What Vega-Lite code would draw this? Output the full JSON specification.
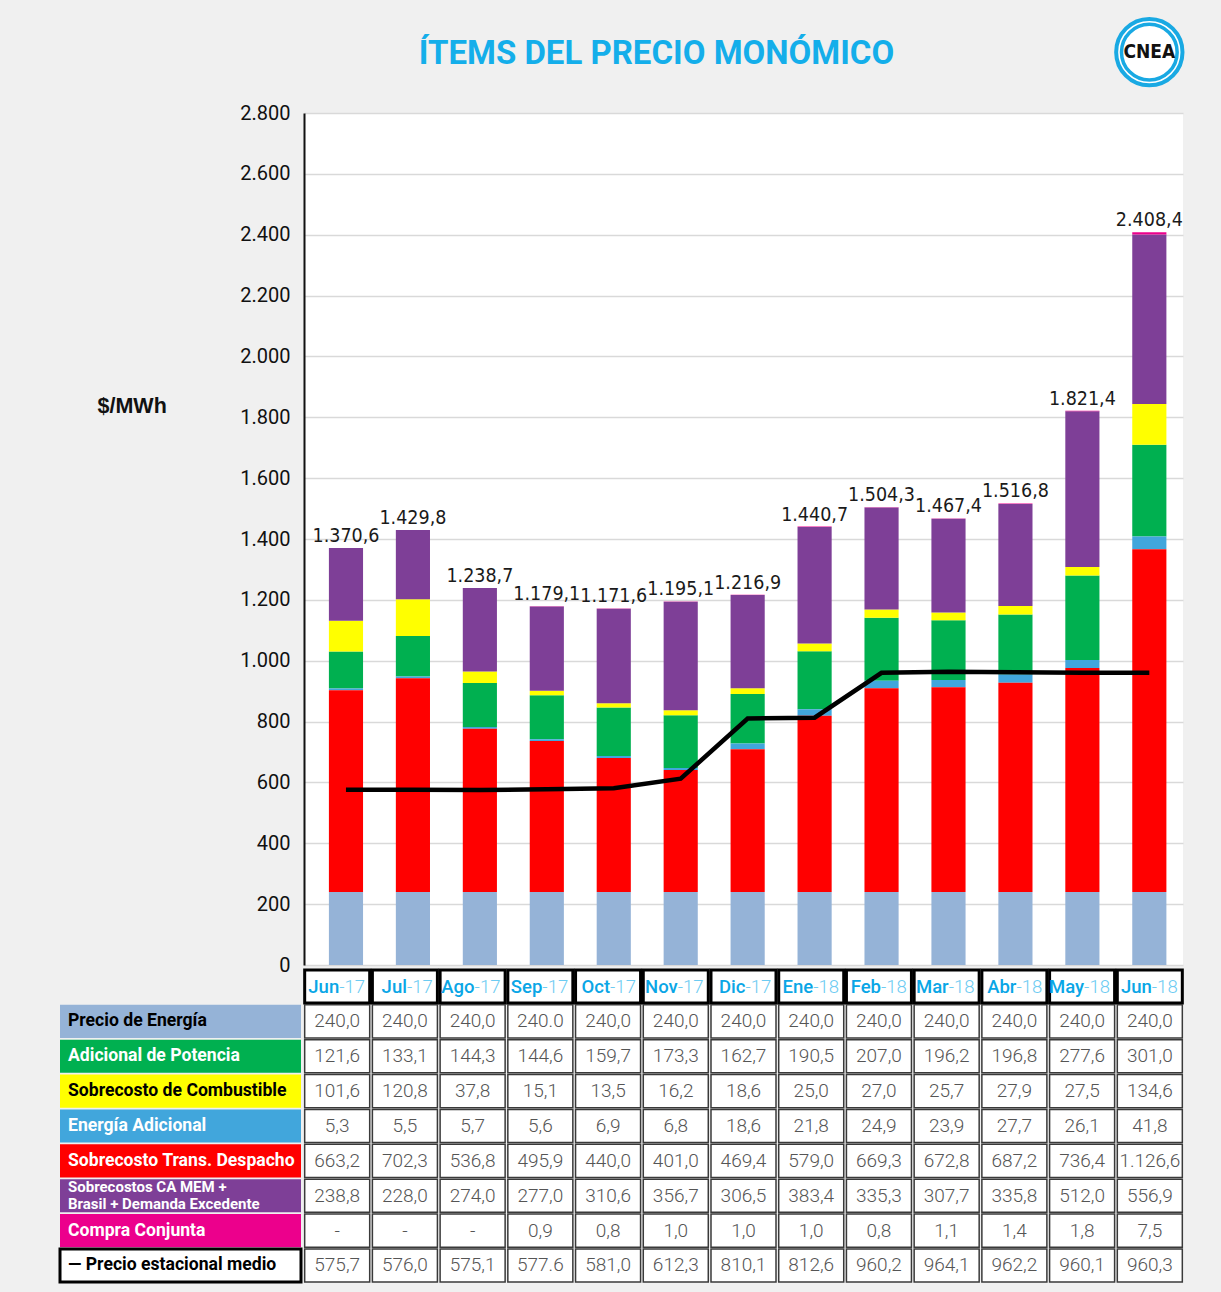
{
  "$schema": "https://vega.github.io/schema/vega-lite/v6.json",
  "background": "#f0f0f0",
  "padding": {"left": 58, "top": 10, "right": 36, "bottom": 10},
  "title": {"text": "ÍTEMS DEL PRECIO MONÓMICO", "font": "Roboto", "fontSize": 33, "fontWeight": "bold", "color": "#14aeea", "anchor": "middle", "frame": "bounds", "offset": -60, "dx": 32},
  "config": {"font": "Roboto", "view": {"stroke": null}},
  "datasets": {
    "filas": [
      {"item": "Precio de Energía", "capa": 1, "etiqueta": "Precio de Energía"},
      {"item": "Adicional de Potencia", "capa": 4, "etiqueta": "Adicional de Potencia"},
      {"item": "Sobrecosto de Combustible", "capa": 5, "etiqueta": "Sobrecosto de Combustible"},
      {"item": "Energía Adicional", "capa": 3, "etiqueta": "Energía Adicional"},
      {"item": "Sobrecosto Trans. Despacho", "capa": 2, "etiqueta": "Sobrecosto Trans. Despacho"},
      {"item": "Sobrecostos CA MEM + Brasil + Demanda Excedente", "capa": 6, "etiqueta": "Sobrecostos CA MEM +\nBrasil + Demanda Excedente"},
      {"item": "Compra Conjunta", "capa": 7, "etiqueta": "Compra Conjunta"},
      {"item": "Precio estacional medio", "capa": 8, "etiqueta": "— Precio estacional medio"}
    ],
    "meses": [
      {"mes": "Jun-17", "m": "Jun", "a": "-17", "total": 1370.6, "ttxt": "1.370,6"},
      {"mes": "Jul-17", "m": "Jul", "a": "-17", "total": 1429.8, "ttxt": "1.429,8"},
      {"mes": "Ago-17", "m": "Ago", "a": "-17", "total": 1238.7, "ttxt": "1.238,7"},
      {"mes": "Sep-17", "m": "Sep", "a": "-17", "total": 1179.1, "ttxt": "1.179,1"},
      {"mes": "Oct-17", "m": "Oct", "a": "-17", "total": 1171.6, "ttxt": "1.171,6"},
      {"mes": "Nov-17", "m": "Nov", "a": "-17", "total": 1195.1, "ttxt": "1.195,1"},
      {"mes": "Dic-17", "m": "Dic", "a": "-17", "total": 1216.9, "ttxt": "1.216,9"},
      {"mes": "Ene-18", "m": "Ene", "a": "-18", "total": 1440.7, "ttxt": "1.440,7"},
      {"mes": "Feb-18", "m": "Feb", "a": "-18", "total": 1504.3, "ttxt": "1.504,3"},
      {"mes": "Mar-18", "m": "Mar", "a": "-18", "total": 1467.4, "ttxt": "1.467,4"},
      {"mes": "Abr-18", "m": "Abr", "a": "-18", "total": 1516.8, "ttxt": "1.516,8"},
      {"mes": "May-18", "m": "May", "a": "-18", "total": 1821.4, "ttxt": "1.821,4"},
      {"mes": "Jun-18", "m": "Jun", "a": "-18", "total": 2408.4, "ttxt": "2.408,4"}
    ],
    "items": [
      {"mes": "Jun-17", "item": "Precio de Energía", "valor": 240.0, "txt": "240,0"},
      {"mes": "Jul-17", "item": "Precio de Energía", "valor": 240.0, "txt": "240,0"},
      {"mes": "Ago-17", "item": "Precio de Energía", "valor": 240.0, "txt": "240,0"},
      {"mes": "Sep-17", "item": "Precio de Energía", "valor": 240.0, "txt": "240.0"},
      {"mes": "Oct-17", "item": "Precio de Energía", "valor": 240.0, "txt": "240,0"},
      {"mes": "Nov-17", "item": "Precio de Energía", "valor": 240.0, "txt": "240,0"},
      {"mes": "Dic-17", "item": "Precio de Energía", "valor": 240.0, "txt": "240,0"},
      {"mes": "Ene-18", "item": "Precio de Energía", "valor": 240.0, "txt": "240,0"},
      {"mes": "Feb-18", "item": "Precio de Energía", "valor": 240.0, "txt": "240,0"},
      {"mes": "Mar-18", "item": "Precio de Energía", "valor": 240.0, "txt": "240,0"},
      {"mes": "Abr-18", "item": "Precio de Energía", "valor": 240.0, "txt": "240,0"},
      {"mes": "May-18", "item": "Precio de Energía", "valor": 240.0, "txt": "240,0"},
      {"mes": "Jun-18", "item": "Precio de Energía", "valor": 240.0, "txt": "240,0"},

      {"mes": "Jun-17", "item": "Adicional de Potencia", "valor": 121.6, "txt": "121,6"},
      {"mes": "Jul-17", "item": "Adicional de Potencia", "valor": 133.1, "txt": "133,1"},
      {"mes": "Ago-17", "item": "Adicional de Potencia", "valor": 144.3, "txt": "144,3"},
      {"mes": "Sep-17", "item": "Adicional de Potencia", "valor": 144.6, "txt": "144,6"},
      {"mes": "Oct-17", "item": "Adicional de Potencia", "valor": 159.7, "txt": "159,7"},
      {"mes": "Nov-17", "item": "Adicional de Potencia", "valor": 173.3, "txt": "173,3"},
      {"mes": "Dic-17", "item": "Adicional de Potencia", "valor": 162.7, "txt": "162,7"},
      {"mes": "Ene-18", "item": "Adicional de Potencia", "valor": 190.5, "txt": "190,5"},
      {"mes": "Feb-18", "item": "Adicional de Potencia", "valor": 207.0, "txt": "207,0"},
      {"mes": "Mar-18", "item": "Adicional de Potencia", "valor": 196.2, "txt": "196,2"},
      {"mes": "Abr-18", "item": "Adicional de Potencia", "valor": 196.8, "txt": "196,8"},
      {"mes": "May-18", "item": "Adicional de Potencia", "valor": 277.6, "txt": "277,6"},
      {"mes": "Jun-18", "item": "Adicional de Potencia", "valor": 301.0, "txt": "301,0"},

      {"mes": "Jun-17", "item": "Sobrecosto de Combustible", "valor": 101.6, "txt": "101,6"},
      {"mes": "Jul-17", "item": "Sobrecosto de Combustible", "valor": 120.8, "txt": "120,8"},
      {"mes": "Ago-17", "item": "Sobrecosto de Combustible", "valor": 37.8, "txt": "37,8"},
      {"mes": "Sep-17", "item": "Sobrecosto de Combustible", "valor": 15.1, "txt": "15,1"},
      {"mes": "Oct-17", "item": "Sobrecosto de Combustible", "valor": 13.5, "txt": "13,5"},
      {"mes": "Nov-17", "item": "Sobrecosto de Combustible", "valor": 16.2, "txt": "16,2"},
      {"mes": "Dic-17", "item": "Sobrecosto de Combustible", "valor": 18.6, "txt": "18,6"},
      {"mes": "Ene-18", "item": "Sobrecosto de Combustible", "valor": 25.0, "txt": "25,0"},
      {"mes": "Feb-18", "item": "Sobrecosto de Combustible", "valor": 27.0, "txt": "27,0"},
      {"mes": "Mar-18", "item": "Sobrecosto de Combustible", "valor": 25.7, "txt": "25,7"},
      {"mes": "Abr-18", "item": "Sobrecosto de Combustible", "valor": 27.9, "txt": "27,9"},
      {"mes": "May-18", "item": "Sobrecosto de Combustible", "valor": 27.5, "txt": "27,5"},
      {"mes": "Jun-18", "item": "Sobrecosto de Combustible", "valor": 134.6, "txt": "134,6"},

      {"mes": "Jun-17", "item": "Energía Adicional", "valor": 5.3, "txt": "5,3"},
      {"mes": "Jul-17", "item": "Energía Adicional", "valor": 5.5, "txt": "5,5"},
      {"mes": "Ago-17", "item": "Energía Adicional", "valor": 5.7, "txt": "5,7"},
      {"mes": "Sep-17", "item": "Energía Adicional", "valor": 5.6, "txt": "5,6"},
      {"mes": "Oct-17", "item": "Energía Adicional", "valor": 6.9, "txt": "6,9"},
      {"mes": "Nov-17", "item": "Energía Adicional", "valor": 6.8, "txt": "6,8"},
      {"mes": "Dic-17", "item": "Energía Adicional", "valor": 18.6, "txt": "18,6"},
      {"mes": "Ene-18", "item": "Energía Adicional", "valor": 21.8, "txt": "21,8"},
      {"mes": "Feb-18", "item": "Energía Adicional", "valor": 24.9, "txt": "24,9"},
      {"mes": "Mar-18", "item": "Energía Adicional", "valor": 23.9, "txt": "23,9"},
      {"mes": "Abr-18", "item": "Energía Adicional", "valor": 27.7, "txt": "27,7"},
      {"mes": "May-18", "item": "Energía Adicional", "valor": 26.1, "txt": "26,1"},
      {"mes": "Jun-18", "item": "Energía Adicional", "valor": 41.8, "txt": "41,8"},

      {"mes": "Jun-17", "item": "Sobrecosto Trans. Despacho", "valor": 663.2, "txt": "663,2"},
      {"mes": "Jul-17", "item": "Sobrecosto Trans. Despacho", "valor": 702.3, "txt": "702,3"},
      {"mes": "Ago-17", "item": "Sobrecosto Trans. Despacho", "valor": 536.8, "txt": "536,8"},
      {"mes": "Sep-17", "item": "Sobrecosto Trans. Despacho", "valor": 495.9, "txt": "495,9"},
      {"mes": "Oct-17", "item": "Sobrecosto Trans. Despacho", "valor": 440.0, "txt": "440,0"},
      {"mes": "Nov-17", "item": "Sobrecosto Trans. Despacho", "valor": 401.0, "txt": "401,0"},
      {"mes": "Dic-17", "item": "Sobrecosto Trans. Despacho", "valor": 469.4, "txt": "469,4"},
      {"mes": "Ene-18", "item": "Sobrecosto Trans. Despacho", "valor": 579.0, "txt": "579,0"},
      {"mes": "Feb-18", "item": "Sobrecosto Trans. Despacho", "valor": 669.3, "txt": "669,3"},
      {"mes": "Mar-18", "item": "Sobrecosto Trans. Despacho", "valor": 672.8, "txt": "672,8"},
      {"mes": "Abr-18", "item": "Sobrecosto Trans. Despacho", "valor": 687.2, "txt": "687,2"},
      {"mes": "May-18", "item": "Sobrecosto Trans. Despacho", "valor": 736.4, "txt": "736,4"},
      {"mes": "Jun-18", "item": "Sobrecosto Trans. Despacho", "valor": 1126.6, "txt": "1.126,6"},

      {"mes": "Jun-17", "item": "Sobrecostos CA MEM + Brasil + Demanda Excedente", "valor": 238.8, "txt": "238,8"},
      {"mes": "Jul-17", "item": "Sobrecostos CA MEM + Brasil + Demanda Excedente", "valor": 228.0, "txt": "228,0"},
      {"mes": "Ago-17", "item": "Sobrecostos CA MEM + Brasil + Demanda Excedente", "valor": 274.0, "txt": "274,0"},
      {"mes": "Sep-17", "item": "Sobrecostos CA MEM + Brasil + Demanda Excedente", "valor": 277.0, "txt": "277,0"},
      {"mes": "Oct-17", "item": "Sobrecostos CA MEM + Brasil + Demanda Excedente", "valor": 310.6, "txt": "310,6"},
      {"mes": "Nov-17", "item": "Sobrecostos CA MEM + Brasil + Demanda Excedente", "valor": 356.7, "txt": "356,7"},
      {"mes": "Dic-17", "item": "Sobrecostos CA MEM + Brasil + Demanda Excedente", "valor": 306.5, "txt": "306,5"},
      {"mes": "Ene-18", "item": "Sobrecostos CA MEM + Brasil + Demanda Excedente", "valor": 383.4, "txt": "383,4"},
      {"mes": "Feb-18", "item": "Sobrecostos CA MEM + Brasil + Demanda Excedente", "valor": 335.3, "txt": "335,3"},
      {"mes": "Mar-18", "item": "Sobrecostos CA MEM + Brasil + Demanda Excedente", "valor": 307.7, "txt": "307,7"},
      {"mes": "Abr-18", "item": "Sobrecostos CA MEM + Brasil + Demanda Excedente", "valor": 335.8, "txt": "335,8"},
      {"mes": "May-18", "item": "Sobrecostos CA MEM + Brasil + Demanda Excedente", "valor": 512.0, "txt": "512,0"},
      {"mes": "Jun-18", "item": "Sobrecostos CA MEM + Brasil + Demanda Excedente", "valor": 556.9, "txt": "556,9"},

      {"mes": "Jun-17", "item": "Compra Conjunta", "valor": null, "txt": "-"},
      {"mes": "Jul-17", "item": "Compra Conjunta", "valor": null, "txt": "-"},
      {"mes": "Ago-17", "item": "Compra Conjunta", "valor": null, "txt": "-"},
      {"mes": "Sep-17", "item": "Compra Conjunta", "valor": 0.9, "txt": "0,9"},
      {"mes": "Oct-17", "item": "Compra Conjunta", "valor": 0.8, "txt": "0,8"},
      {"mes": "Nov-17", "item": "Compra Conjunta", "valor": 1.0, "txt": "1,0"},
      {"mes": "Dic-17", "item": "Compra Conjunta", "valor": 1.0, "txt": "1,0"},
      {"mes": "Ene-18", "item": "Compra Conjunta", "valor": 1.0, "txt": "1,0"},
      {"mes": "Feb-18", "item": "Compra Conjunta", "valor": 0.8, "txt": "0,8"},
      {"mes": "Mar-18", "item": "Compra Conjunta", "valor": 1.1, "txt": "1,1"},
      {"mes": "Abr-18", "item": "Compra Conjunta", "valor": 1.4, "txt": "1,4"},
      {"mes": "May-18", "item": "Compra Conjunta", "valor": 1.8, "txt": "1,8"},
      {"mes": "Jun-18", "item": "Compra Conjunta", "valor": 7.5, "txt": "7,5"},

      {"mes": "Jun-17", "item": "Precio estacional medio", "valor": 575.7, "txt": "575,7"},
      {"mes": "Jul-17", "item": "Precio estacional medio", "valor": 576.0, "txt": "576,0"},
      {"mes": "Ago-17", "item": "Precio estacional medio", "valor": 575.1, "txt": "575,1"},
      {"mes": "Sep-17", "item": "Precio estacional medio", "valor": 577.6, "txt": "577.6"},
      {"mes": "Oct-17", "item": "Precio estacional medio", "valor": 581.0, "txt": "581,0"},
      {"mes": "Nov-17", "item": "Precio estacional medio", "valor": 612.3, "txt": "612,3"},
      {"mes": "Dic-17", "item": "Precio estacional medio", "valor": 810.1, "txt": "810,1"},
      {"mes": "Ene-18", "item": "Precio estacional medio", "valor": 812.6, "txt": "812,6"},
      {"mes": "Feb-18", "item": "Precio estacional medio", "valor": 960.2, "txt": "960,2"},
      {"mes": "Mar-18", "item": "Precio estacional medio", "valor": 964.1, "txt": "964,1"},
      {"mes": "Abr-18", "item": "Precio estacional medio", "valor": 962.2, "txt": "962,2"},
      {"mes": "May-18", "item": "Precio estacional medio", "valor": 960.1, "txt": "960,1"},
      {"mes": "Jun-18", "item": "Precio estacional medio", "valor": 960.3, "txt": "960,3"}
    ]
  },
  "columns": 2,
  "bounds": "flush",
  "spacing": {"row": 5, "column": 3},
  "concat": [
    {
      "width": 241, "height": 1,
      "data": {"values": []},
      "mark": "text",
      "encoding": {}
    },
    {
      "width": 879, "height": 852,
      "view": {"fill": "white", "stroke": null},
      "encoding": {
        "x": {"field": "mes", "type": "nominal", "axis": null,
          "scale": {"domain": ["Jun-17","Jul-17","Ago-17","Sep-17","Oct-17","Nov-17","Dic-17","Ene-18","Feb-18","Mar-18","Abr-18","May-18","Jun-18"], "paddingInner": 0.49, "paddingOuter": 0.31, "align": 0.6}}
      },
      "layer": [
        {
          "data": {"name": "items"},
          "transform": [
            {"filter": "datum.item != 'Precio estacional medio' && isValid(datum.valor)"},
            {"lookup": "item", "from": {"data": {"name": "filas"}, "key": "item", "fields": ["capa"]}}
          ],
          "mark": {"type": "bar"},
          "encoding": {
            "y": {"field": "valor", "type": "quantitative", "stack": "zero",
              "scale": {"domain": [0, 2800], "nice": false},
              "axis": {"values": [0,200,400,600,800,1000,1200,1400,1600,1800,2000,2200,2400,2600,2800],
                "labelExpr": "replace(format(datum.value, ','), ',', '.')",
                "labelFontSize": 20, "labelColor": "#111", "labelPadding": 14, "ticks": false,
                "domainColor": "#111", "domainWidth": 2, "gridColor": "#d9d9d9", "gridWidth": 1.3,
                "title": "$/MWh", "titleAngle": 0, "titleX": -207, "titleY": 293, "titleAlign": "left", "titleBaseline": "middle",
                "titleFont": "Liberation Sans", "titleFontSize": 21.5, "titleFontWeight": "bold", "titleColor": "#111"}},
            "color": {"field": "item", "type": "nominal", "legend": null,
              "scale": {"domain": ["Precio de Energía","Adicional de Potencia","Sobrecosto de Combustible","Energía Adicional","Sobrecosto Trans. Despacho","Sobrecostos CA MEM + Brasil + Demanda Excedente","Compra Conjunta","Precio estacional medio"],
                "range": ["#95b3d7","#00b050","#ffff00","#41a6dc","#ff0000","#7e3f97","#ec008c","#ffffff"]}},
            "order": {"field": "capa", "type": "quantitative"}
          }
        },
        {
          "data": {"name": "items"},
          "transform": [{"filter": "datum.item == 'Precio estacional medio'"}],
          "mark": {"type": "line", "color": "#000000", "strokeWidth": 4.5},
          "encoding": {"y": {"field": "valor", "type": "quantitative"}}
        },
        {
          "data": {"name": "meses"},
          "mark": {"type": "text", "baseline": "alphabetic", "dy": -6, "fontSize": 19.5, "color": "#1a1a1a", "font": "DejaVu Sans Condensed, Roboto"},
          "encoding": {"y": {"field": "total", "type": "quantitative"}, "text": {"field": "ttxt"}}
        },
        {
          "data": {"values": [{"logo": "CNEA"}]},
          "layer": [
            {"mark": {"type": "point", "shape": "circle", "filled": true, "fill": "#ffffff", "stroke": "#19a9e3", "strokeWidth": 4, "size": 4400, "opacity": 1},
             "encoding": {"x": {"datum": "Jun-18"}, "y": {"datum": 3000}}},
            {"mark": {"type": "point", "shape": "circle", "filled": false, "stroke": "#19a9e3", "strokeWidth": 3.5, "size": 3100, "opacity": 1},
             "encoding": {"x": {"datum": "Jun-18"}, "y": {"datum": 3000}}},
            {"mark": {"type": "text", "fontSize": 19, "fontWeight": "bold", "color": "#111", "baseline": "middle", "font": "DejaVu Sans Condensed, Roboto"},
             "encoding": {"x": {"datum": "Jun-18"}, "y": {"datum": 3000}, "text": {"field": "logo"}}}
          ]
        }
      ]
    },
    {
      "width": 241, "height": 312,
      "data": {"name": "filas"},
      "encoding": {
        "y": {"field": "item", "type": "nominal", "axis": null,
          "scale": {"domain": ["Meses","Precio de Energía","Adicional de Potencia","Sobrecosto de Combustible","Energía Adicional","Sobrecosto Trans. Despacho","Sobrecostos CA MEM + Brasil + Demanda Excedente","Compra Conjunta","Precio estacional medio"], "paddingInner": 0.05, "paddingOuter": 0}}
      },
      "layer": [
        {
          "mark": {"type": "rect", "strokeWidth": 3},
          "encoding": {
            "x": {"datum": 0, "type": "quantitative", "scale": {"domain": [0, 1]}, "axis": null},
            "x2": {"datum": 1},
            "color": {"field": "item", "type": "nominal", "legend": null},
            "stroke": {"condition": {"test": "datum.item == 'Precio estacional medio'", "value": "#000000"}, "value": null}
          }
        },
        {
          "transform": [{"filter": "datum.capa != 6"}],
          "mark": {"type": "text", "align": "left", "dx": 8, "fontWeight": "bold", "fontSize": 17.6, "baseline": "middle"},
          "encoding": {
            "x": {"datum": 0, "type": "quantitative"},
            "text": {"field": "etiqueta"},
            "color": {"condition": {"test": "indexof(['Precio de Energía','Sobrecosto de Combustible','Precio estacional medio'], datum.item) >= 0", "value": "#000000"}, "value": "#ffffff"}
          }
        },
        {
          "transform": [{"filter": "datum.capa == 6"}],
          "mark": {"type": "text", "align": "left", "dx": 8, "dy": -8.5, "fontWeight": "bold", "fontSize": 15, "lineBreak": "\n", "lineHeight": 17, "baseline": "middle", "color": "#ffffff"},
          "encoding": {
            "x": {"datum": 0, "type": "quantitative"},
            "text": {"field": "etiqueta"}
          }
        }
      ]
    },
    {
      "width": 879, "height": 312,
      "encoding": {
        "x": {"field": "mes", "type": "nominal", "axis": null,
          "scale": {"domain": ["Jun-17","Jul-17","Ago-17","Sep-17","Oct-17","Nov-17","Dic-17","Ene-18","Feb-18","Mar-18","Abr-18","May-18","Jun-18"], "paddingInner": 0.04, "paddingOuter": 0.01}}
      },
      "layer": [
        {
          "data": {"name": "meses"},
          "mark": {"type": "rect", "fill": "#ffffff", "stroke": "#000000", "strokeWidth": 3},
          "encoding": {"y": {"datum": "Meses", "type": "nominal",
            "scale": {"domain": ["Meses","Precio de Energía","Adicional de Potencia","Sobrecosto de Combustible","Energía Adicional","Sobrecosto Trans. Despacho","Sobrecostos CA MEM + Brasil + Demanda Excedente","Compra Conjunta","Precio estacional medio"], "paddingInner": 0.05, "paddingOuter": 0}, "axis": null}}
        },
        {
          "data": {"name": "meses"},
          "mark": {"type": "text", "align": "right", "dx": 2, "fontSize": 18.5, "fontWeight": 500, "color": "#0aa6e6", "baseline": "middle"},
          "encoding": {"y": {"datum": "Meses", "type": "nominal"}, "text": {"field": "m"}}
        },
        {
          "data": {"name": "meses"},
          "mark": {"type": "text", "align": "left", "dx": 2, "fontSize": 18.5, "fontWeight": 300, "color": "#6ccbf2", "baseline": "middle"},
          "encoding": {"y": {"datum": "Meses", "type": "nominal"}, "text": {"field": "a"}}
        },
        {
          "data": {"name": "items"},
          "mark": {"type": "rect", "fill": "#ffffff", "stroke": "#3a3a3a", "strokeWidth": 1.5},
          "encoding": {"y": {"field": "item", "type": "nominal"}}
        },
        {
          "data": {"name": "items"},
          "mark": {"type": "text", "fontSize": 19, "fontWeight": 300, "color": "#555555", "baseline": "middle"},
          "encoding": {"y": {"field": "item", "type": "nominal"}, "text": {"field": "txt"}}
        }
      ]
    }
  ]
}
